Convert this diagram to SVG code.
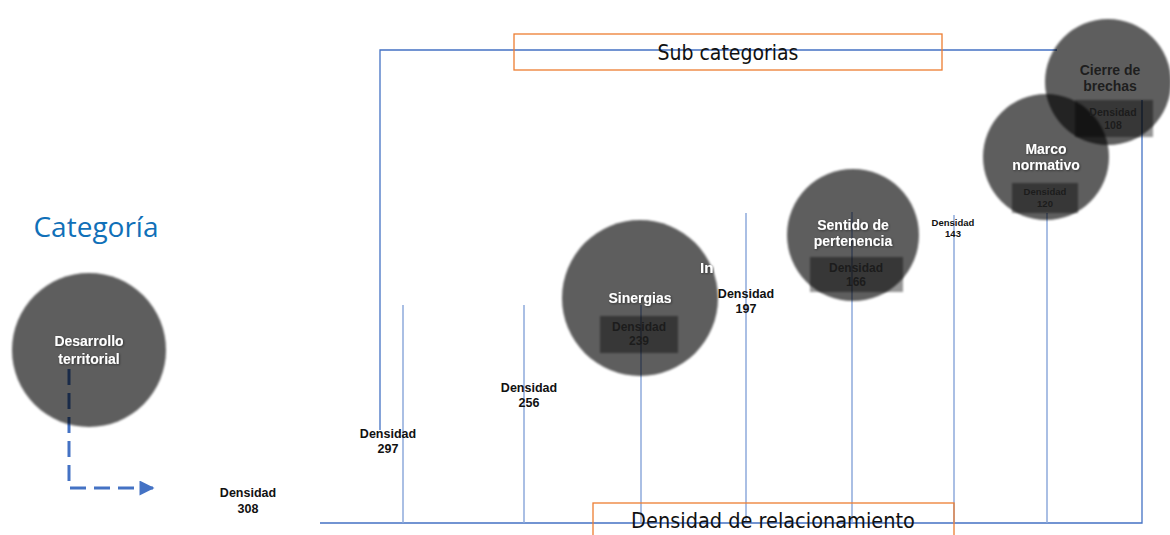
<svg xmlns="http://www.w3.org/2000/svg" width="1170" height="535" viewBox="0 0 1170 535">
<style>
.ax{stroke:#8eaadb;stroke-width:1.5;fill:none}
.br{stroke:#4472c4;stroke-width:1.3;fill:none}
.ob{stroke:#ed7d31;stroke-width:1.3;fill:none}
.circ{fill:#000;fill-opacity:0.63;filter:url(#soft)}
.dbox{fill:#000;fill-opacity:0.42;filter:url(#soft)}
.ct{font-family:"Liberation Sans",Arial,sans-serif;font-weight:bold;font-size:14px;fill:#fff;text-anchor:middle;filter:url(#sh)}
.ctd{font-family:"Liberation Sans",Arial,sans-serif;font-weight:bold;font-size:14px;fill:#1e1e1e;text-anchor:middle}
.dl{font-family:"Liberation Sans",Arial,sans-serif;font-weight:bold;font-size:12.5px;fill:#111;text-anchor:middle}
.di{font-family:"Liberation Sans",Arial,sans-serif;font-weight:bold;font-size:12px;fill:#1c1c1c;text-anchor:middle}
.big{font-family:"DejaVu Sans Condensed","Liberation Sans",sans-serif;font-size:21px;fill:#111;text-anchor:middle}
</style>
<defs>
<filter id="soft" x="-10%" y="-10%" width="120%" height="120%"><feGaussianBlur stdDeviation="1.3"/></filter>
<filter id="sh" x="-10%" y="-20%" width="120%" height="150%"><feDropShadow dx="0.8" dy="0.8" stdDeviation="0.8" flood-color="#000" flood-opacity="0.5"/></filter>
<marker id="ah" viewBox="0 0 10 10" refX="9" refY="5" markerWidth="5.5" markerHeight="5" orient="auto" markerUnits="strokeWidth"><path d="M0,0 L10,5 L0,10 z" fill="#4472c4"/></marker>
</defs>
<rect width="1170" height="535" fill="#fff"/>

<g id="connectors">
<polyline class="br" points="380,430 380,50 1057,50"/>
<polyline class="br" points="320,523 1142,523 1142,100"/>
<line class="ax" x1="403" y1="305" x2="403" y2="523"/>
<line class="ax" x1="524" y1="305" x2="524" y2="523"/>
<line class="ax" x1="641" y1="305" x2="641" y2="523"/>
<line class="ax" x1="746" y1="213" x2="746" y2="523"/>
<line class="ax" x1="852" y1="212" x2="852" y2="523"/>
<line class="ax" x1="954" y1="215" x2="954" y2="523"/>
<line class="ax" x1="1047" y1="213" x2="1047" y2="523"/>
<polyline points="69,369 69,488 153,488" fill="none" stroke="#4472c4" stroke-width="3" stroke-dasharray="16 8" marker-end="url(#ah)"/>
</g>

<g id="title-subcategorias">
<rect class="ob" x="514" y="34" width="428" height="36"/>
<text class="big" x="728" y="60">Sub categorias</text>
</g>

<g id="title-densidad-relacionamiento">
<rect class="ob" x="593" y="503" width="361" height="40"/>
<text class="big" x="773" y="528" style="font-size:21.5px">Densidad de relacionamiento</text>
</g>

<g id="title-categoria">
<text x="96" y="237" font-family="'Open Sans','DejaVu Sans',sans-serif" font-size="28" fill="#1070b8" text-anchor="middle">Categoría</text>
</g>

<g id="node-desarrollo">
<circle class="circ" cx="89" cy="350" r="77"/>
<text class="ct" x="89" y="346">Desarrollo</text>
<text class="ct" x="89" y="364">territorial</text>
</g>

<g id="label-308"><text class="dl" x="248" y="497">Densidad</text><text class="dl" x="248" y="513">308</text></g>
<g id="label-297"><text class="dl" x="388" y="438">Densidad</text><text class="dl" x="388" y="453">297</text></g>
<g id="label-256"><text class="dl" x="529" y="392">Densidad</text><text class="dl" x="529" y="407">256</text></g>

<g id="node-sinergias">
<circle class="circ" cx="640" cy="298" r="78"/>
<rect class="dbox" x="600" y="316" width="78" height="37"/>
<text class="ct" x="640" y="303">Sinergias</text>
<text class="di" x="639" y="331">Densidad</text>
<text class="di" x="639" y="345">239</text>
</g>

<g id="label-197">
<text class="ct" x="700" y="273" style="text-anchor:start;font-size:15px">In</text>
<text class="dl" x="746" y="298">Densidad</text><text class="dl" x="746" y="313">197</text>
</g>

<g id="node-sentido">
<circle class="circ" cx="853" cy="235" r="66"/>
<rect class="dbox" x="810" y="257" width="93" height="35"/>
<text class="ct" x="853" y="230">Sentido de</text>
<text class="ct" x="853" y="246">pertenencia</text>
<text class="di" x="856" y="272">Densidad</text>
<text class="di" x="856" y="286">166</text>
</g>

<g id="label-143"><text class="dl" x="953" y="226" style="font-size:9.5px">Densidad</text><text class="dl" x="953" y="237" style="font-size:9.5px">143</text></g>

<g id="node-marco">
<circle class="circ" cx="1046" cy="157" r="63"/>
<rect class="dbox" x="1012" y="183" width="66" height="30"/>
<text class="ct" x="1046" y="154">Marco</text>
<text class="ct" x="1046" y="170">normativo</text>
<text class="di" x="1045" y="195" style="font-size:9.5px">Densidad</text>
<text class="di" x="1045" y="207" style="font-size:9.5px">120</text>
</g>

<g id="node-cierre">
<circle class="circ" cx="1108" cy="82" r="63"/>
<rect class="dbox" x="1075" y="100" width="78" height="37"/>
<text class="ctd" x="1110" y="75">Cierre de</text>
<text class="ctd" x="1110" y="91">brechas</text>
<text class="di" x="1113" y="116" style="font-size:10.5px">Densidad</text>
<text class="di" x="1113" y="129" style="font-size:10.5px">108</text>
</g>
</svg>
